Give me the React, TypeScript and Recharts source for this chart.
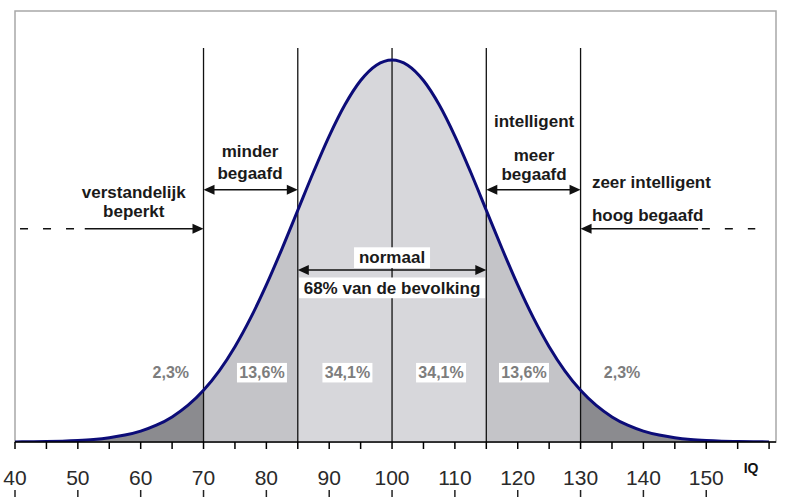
import React from 'react';
import { ComposedChart, Area, Line, XAxis, YAxis, ReferenceLine, ReferenceDot, ReferenceArea } from 'recharts';

// IQ points (x) and relative frequency (peak = 100)
const iq = [40, 42.5, 45, 47.5, 50, 52.5, 55, 57.5, 60, 62.5, 65, 67.5, 70, 72.5, 75, 77.5, 80, 82.5, 85, 87.5, 90, 92.5, 95, 97.5, 100,
  102.5, 105, 107.5, 110, 112.5, 115, 117.5, 120, 122.5, 125, 127.5, 130, 132.5, 135, 137.5, 140, 142.5, 145, 147.5, 150, 152.5, 155, 157.5, 160];
const freq = [0.03, 0.06, 0.12, 0.22, 0.39, 0.66, 1.11, 1.81, 2.86, 4.39, 6.57, 9.56, 13.53, 18.62, 24.94, 32.47, 41.11, 50.63, 60.65, 70.66, 80.07, 88.25, 94.6, 98.62, 100,
  98.62, 94.6, 88.25, 80.07, 70.66, 60.65, 50.63, 41.11, 32.47, 24.94, 18.62, 13.53, 9.56, 6.57, 4.39, 2.86, 1.81, 1.11, 0.66, 0.39, 0.22, 0.12, 0.06, 0.03];

// band boundaries (IQ)
const bands = [
  { key: 'tailL', from: 40, to: 70, color: '#8b8b8f' },
  { key: 'midL', from: 70, to: 85, color: '#c4c4c8' },
  { key: 'center', from: 85, to: 115, color: '#d7d7db' },
  { key: 'midR', from: 115, to: 130, color: '#c4c4c8' },
  { key: 'tailR', from: 130, to: 160, color: '#8b8b8f' },
];
const dividers = [70, 85, 100, 115, 130];

const ticks = [40, 45, 50, 55, 60, 65, 70, 75, 80, 85, 90, 95, 100, 105, 110, 115, 120, 125, 130, 135, 140, 145, 150, 155, 160];

const percentLabels = ['2,3%', '13,6%', '34,1%', '34,1%', '13,6%', '2,3%'];
const percentX = [64.8, 79.3, 92.9, 107.8, 121.0, 136.6];
const percentBoxed = [false, true, true, true, true, false];
const percentY = 18.1;

// annotation texts: [text, iq, value, anchor, boxed]
const notes: [string, number, number, string, boolean][] = [
  ['minder', 77.4, 75.9, 'middle', false],
  ['begaafd', 77.4, 70.2, 'middle', false],
  ['verstandelijk', 58.9, 65.2, 'middle', false],
  ['beperkt', 58.9, 60.2, 'middle', false],
  ['intelligent', 122.6, 84.0, 'middle', false],
  ['meer', 122.6, 75.1, 'middle', false],
  ['begaafd', 122.6, 69.9, 'middle', false],
  ['zeer intelligent', 131.8, 67.8, 'start', false],
  ['hoog begaafd', 131.8, 59.4, 'start', false],
  ['normaal', 100, 48.2, 'middle', true],
  ['68% van de bevolking', 100, 40.3, 'middle', true],
];

// arrows: [x1, x2, y, heads, dashed]
const arrows: [number, number, number, string, boolean][] = [
  [70, 85, 66.0, 'both', false],
  [115, 130, 66.0, 'both', false],
  [85, 115, 45.0, 'both', false],
  [51.1, 70, 55.8, 'end', false],
  [40.8, 49.4, 55.8, 'none', true],
  [130, 148.7, 55.8, 'start', false],
  [149.3, 157.8, 55.8, 'none', true],
];

const yMax = 112.8;
const xMax = 161.1;
const dividerTop = 103.1;

const data = iq.map((x, i) => {
  const row: any = { iq: x, freq: freq[i] };
  bands.forEach(b => {
    row[b.key] = x >= b.from && x <= b.to ? freq[i] : null;
  });
  return row;
});

const FONT = '"Liberation Sans", Arial, sans-serif';

function arrowShape(heads: string, dashed: boolean) {
  return (p: any) => {
    const { x1, y1, x2, y2 } = p;
    const L = 11, hw = 5;
    const a = Math.min(x1, x2), b = Math.max(x1, x2);
    const s = heads === 'both' || heads === 'start' ? a + L - 1 : a;
    const e = heads === 'both' || heads === 'end' ? b - L + 1 : b;
    return (
      <g>
        <line x1={s} y1={y1} x2={e} y2={y2} stroke="#111" strokeWidth={1.6} strokeDasharray={dashed ? '8 15' : undefined} />
        {(heads === 'both' || heads === 'start') && (
          <polygon points={`${a},${y1} ${a + L},${y1 - hw} ${a + L},${y1 + hw}`} fill="#111" />
        )}
        {(heads === 'both' || heads === 'end') && (
          <polygon points={`${b},${y1} ${b - L},${y1 - hw} ${b - L},${y1 + hw}`} fill="#111" />
        )}
      </g>
    );
  };
}

function textShape(text: string, anchor: string, boxed: boolean, size: number, color: string, boxW?: number) {
  return (p: any) => {
    const { cx, cy } = p;
    const w = boxW ?? text.length * size * 0.6;
    const bx = anchor === 'start' ? cx - 3 : cx - w / 2;
    return (
      <g>
        {boxed && <rect x={bx} y={cy - size * 0.62} width={w} height={size * 1.22} fill="#ffffff" />}
        <text x={cx} y={cy} textAnchor={anchor as any} dominantBaseline="central" fontFamily={FONT}
          fontWeight="bold" fontSize={size} fill={color}>{text}</text>
      </g>
    );
  };
}

function Tick(props: any) {
  const { x, y, payload } = props;
  const v = payload.value;
  const labeled = v % 10 === 0 && v <= 150;
  return (
    <g>
      {labeled && (
        <>
          <text x={x} y={y + 28} textAnchor="middle" dominantBaseline="central" fontFamily={FONT} fontSize={21} fill="#2a2a2a">{v}</text>
          <line x1={x} y1={y + 41} x2={x} y2={y + 48} stroke="#222" strokeWidth={1.5} />
        </>
      )}
      {v === 160 && (
        <text x={x - 18} y={y + 19} textAnchor="middle" dominantBaseline="central" fontFamily={FONT} fontWeight="bold" fontSize={14} fill="#111">IQ</text>
      )}
    </g>
  );
}

export default function App() {
  return (
    <div style={{ position: 'absolute', left: 0, top: 0, width: 788, height: 502, background: '#fff' }}>
      <ComposedChart width={788} height={502} data={data} margin={{ top: 11, right: 12, bottom: 0, left: 15 }}>
        <XAxis dataKey="iq" type="number" domain={[40, xMax]} ticks={ticks} allowDataOverflow
          height={60} tickSize={7} tickMargin={0} tick={<Tick />}
          axisLine={{ stroke: '#000', strokeWidth: 1.5 }} tickLine={{ stroke: '#000', strokeWidth: 1.5 }} interval={0} />
        <YAxis type="number" domain={[0, yMax]} hide allowDataOverflow />
        <ReferenceArea x1={40} x2={xMax} y1={0} y2={yMax} fill="none" stroke="#a8a8a8" strokeWidth={1.5} ifOverflow="visible" />
        {bands.map(b => (
          <Area key={b.key} dataKey={b.key} type="monotone" fill={b.color} fillOpacity={1} stroke="none"
            isAnimationActive={false} connectNulls={false} dot={false} activeDot={false} />
        ))}
        {dividers.map(d => (
          <ReferenceLine key={d} segment={[{ x: d, y: 0 }, { x: d, y: dividerTop }]} stroke="#111" strokeWidth={1.3} />
        ))}
        <Line dataKey="freq" type="monotone" stroke="#0c0c78" strokeWidth={3} dot={false} activeDot={false} isAnimationActive={false} />
        {arrows.map((a, i) => (
          <ReferenceLine key={'a' + i} segment={[{ x: a[0], y: a[2] }, { x: a[1], y: a[2] }]} stroke="#111"
            shape={arrowShape(a[3], a[4])} />
        ))}
        {notes.map((n, i) => (
          <ReferenceDot key={'n' + i} x={n[1]} y={n[2]} r={1} ifOverflow="visible"
            shape={textShape(n[0], n[3], n[4], 17, '#1a1a1a', n[4] ? (n[0].length > 10 ? 186 : 76) : undefined)} />
        ))}
        {percentLabels.map((t, i) => (
          <ReferenceDot key={'p' + i} x={percentX[i]} y={percentY} r={1} ifOverflow="visible"
            shape={textShape(t, 'middle', percentBoxed[i], 16, '#7d7d7d', t.length > 4 ? 50 : 42)} />
        ))}
      </ComposedChart>
    </div>
  );
}
